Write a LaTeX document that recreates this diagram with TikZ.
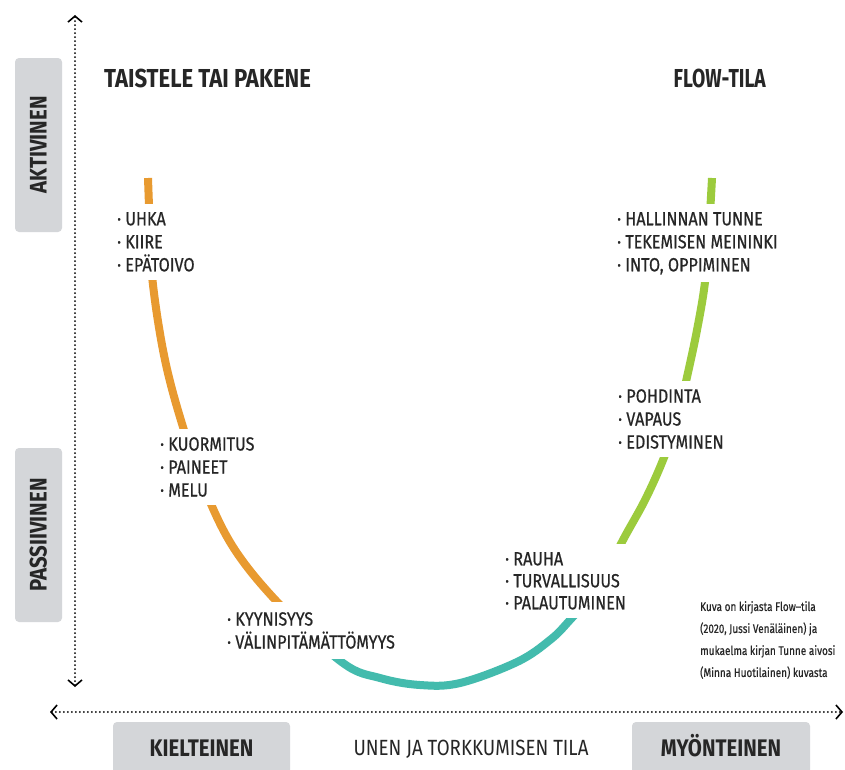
\documentclass[tikz,border=0pt]{standalone}
\usepackage{fontspec}
\setmainfont[FakeStretch=0.85]{Fira Sans}
\newfontfamily\labelfont[FakeStretch=0.85, FakeBold=0.6]{Fira Sans}
\newfontfamily\narrowfont[FakeStretch=0.8, FakeBold=0.4]{Fira Sans}
\newfontfamily\flowfont[FakeStretch=0.74]{Fira Sans}
\usetikzlibrary{arrows.meta}
\definecolor{orng}{HTML}{E89A30}
\definecolor{tealc}{HTML}{43BBAD}
\definecolor{grn}{HTML}{9CCB3D}
\definecolor{boxg}{HTML}{D4D6D9}
\definecolor{txt}{HTML}{262626}
\begin{document}
\begin{tikzpicture}[x=1pt,y=-1pt,
  lbl/.style={fill=white, text=txt, font=\labelfont\fontsize{19}{23}\selectfont, align=left, anchor=north west, inner xsep=5pt, inner ysep=8pt},
  head/.style={text=txt, font=\bfseries\fontsize{26}{30}\selectfont, inner sep=0pt},
  gbox/.style={fill=boxg, rounded corners=4pt, text=txt, font=\bfseries\fontsize{24}{28}\selectfont, inner sep=0pt, text height=16pt, text depth=0pt},
  tipc/.tip={Straight Barb[length=6pt,width=14pt,line width=1.6pt]},
  dotaxis/.style={line width=2pt, line cap=round, dash pattern=on 0pt off 4pt, tipc-tipc},
  curve/.style={line width=8pt}
]
\useasboundingbox[fill=white] (0,0) rectangle (845,769);

% the U curve, coloured by clipping
\begin{scope}
\clip (0,0) rectangle (312,769);
\draw[curve,orng] plot[smooth, tension=0.6] coordinates {(148,178) (150,230) (153,285) (165,360) (183,427) (205,490) (235,550) (282,607) (343,663) (380,678) (420,685) (460,683) (517,662) (550,640) (570,620) (600,585) (623,540) (645,500) (663,460) (677,420) (687,377) (697,330) (705,282) (709,230) (712,178)};
\end{scope}
\begin{scope}
\clip (312,0) rectangle (597,769);
\draw[curve,tealc] plot[smooth, tension=0.6] coordinates {(148,178) (150,230) (153,285) (165,360) (183,427) (205,490) (235,550) (282,607) (343,663) (380,678) (420,685) (460,683) (517,662) (550,640) (570,620) (600,585) (623,540) (645,500) (663,460) (677,420) (687,377) (697,330) (705,282) (709,230) (712,178)};
\end{scope}
\begin{scope}
\clip (597,0) rectangle (845,769);
\draw[curve,grn] plot[smooth, tension=0.6] coordinates {(148,178) (150,230) (153,285) (165,360) (183,427) (205,490) (235,550) (282,607) (343,663) (380,678) (420,685) (460,683) (517,662) (550,640) (570,620) (600,585) (623,540) (645,500) (663,460) (677,420) (687,377) (697,330) (705,282) (709,230) (712,178)};
\end{scope}

% labels along the curve
\node[lbl] (l1) at (112,204) {· UHKA\\· KIIRE\\· EPÄTOIVO};
\node[lbl] (l2) at (155,429) {· KUORMITUS\\· PAINEET\\· MELU};
\node[lbl, inner ysep=10pt] (l3) at (222,602) {· KYYNISYYS\\· VÄLINPITÄMÄTTÖMYYS};
\node[lbl, font=\labelfont\fontsize{19}{22}\selectfont] (l4) at (500,544) {· RAUHA\\· TURVALLISUUS\\· PALAUTUMINEN};
\node[lbl] (l5) at (613,381) {· POHDINTA\\· VAPAUS\\· EDISTYMINEN};
\node[lbl] (l6) at (612,204) {· HALLINNAN TUNNE\\· TEKEMISEN MEININKI\\· INTO, OPPIMINEN};

% headings
\node[head, anchor=base west] (h1) at (104,87) {TAISTELE TAI PAKENE};
\node[head, anchor=base east, font=\flowfont\bfseries\fontsize{26}{30}\selectfont] (h2) at (766,87) {FLOW-TILA};

% axes
\coordinate (vtop) at (75,15);
\coordinate (vbot) at (75,687);
\coordinate (hleft) at (50,712);
\coordinate (hright) at (843,712);
\draw[dotaxis] (vbot) -- (vtop);
\draw[dotaxis] (hleft) -- (hright);

% grey boxes
\node[gbox, rotate=90, minimum width=174pt, minimum height=47pt] (akt) at (38.5,145) {AKTIVINEN};
\node[gbox, rotate=90, minimum width=174pt, minimum height=47pt] (pas) at (38.5,535) {PASSIIVINEN};
\node[gbox, minimum width=177pt, minimum height=52pt] (kiel) at (201.5,748) {KIELTEINEN};
\node[gbox, minimum width=178pt, minimum height=52pt] (myo) at (721,748) {MYÖNTEINEN};
\node[text=txt, font=\fontsize{22}{26}\selectfont, inner sep=0pt, text height=15pt, text depth=0pt] (unen) at (471,748) {UNEN JA TORKKUMISEN TILA};

% credit
\node[anchor=north west, text=txt, font=\narrowfont\fontsize{12.5}{22}\selectfont, align=left, inner sep=0pt] (cred) at (700,601) {Kuva on kirjasta Flow–tila\\(2020, Jussi Venäläinen) ja\\mukaelma kirjan Tunne aivosi\\(Minna Huotilainen) kuvasta};
\end{tikzpicture}
\end{document}
